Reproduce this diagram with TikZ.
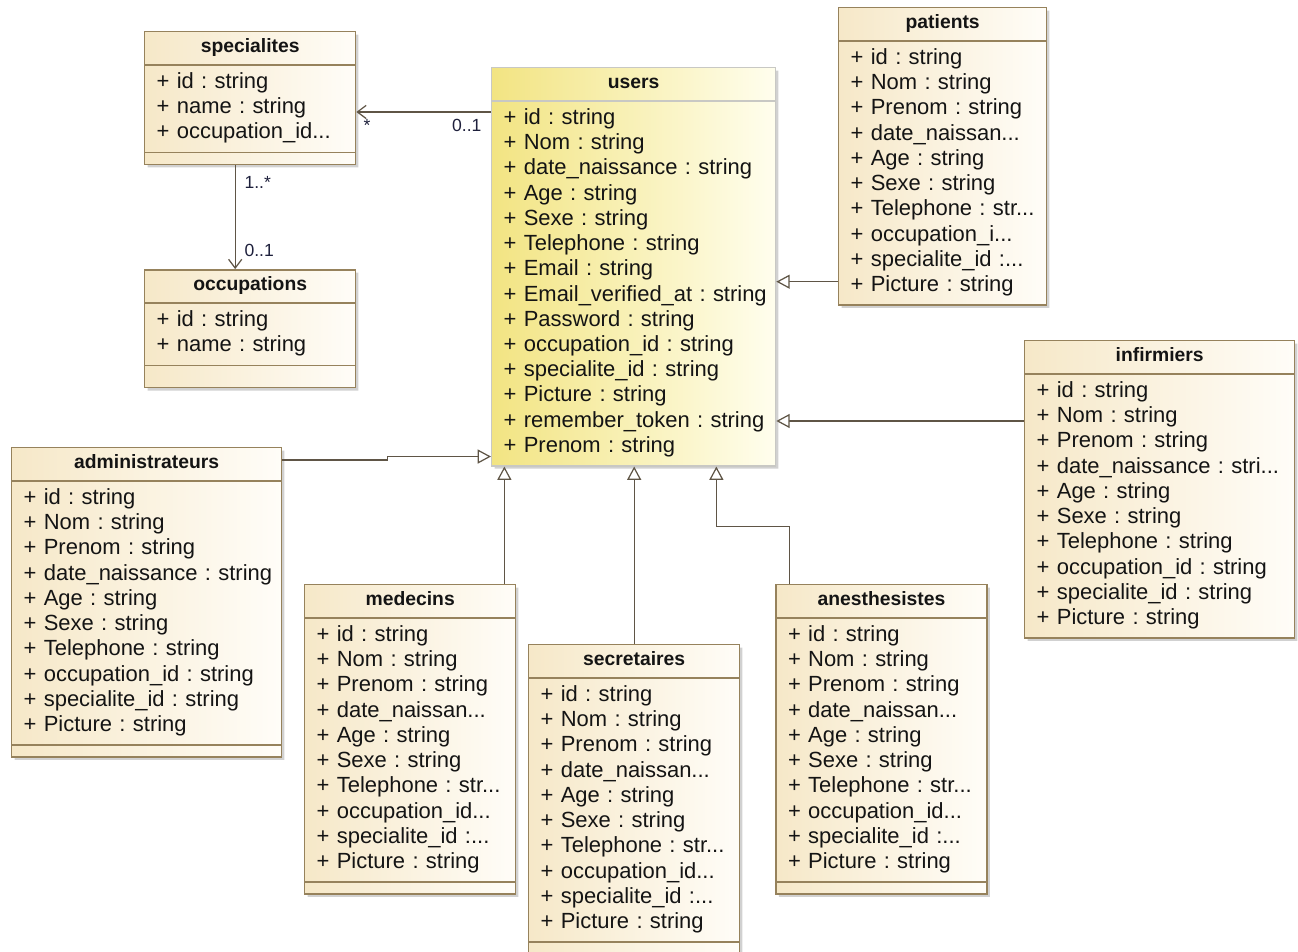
\documentclass[tikz,border=0pt]{standalone}
\usepackage{fontspec}
\setmainfont{Liberation Sans}
\usetikzlibrary{shapes.multipart, shadows, arrows.meta, positioning, calc}
\frenchspacing

\definecolor{classline}{RGB}{150,130,92}
\definecolor{classleft}{RGB}{246,232,200}
\definecolor{classright}{RGB}{255,253,248}
\definecolor{userline}{RGB}{200,200,196}
\definecolor{userleft}{RGB}{242,228,130}
\definecolor{userright}{RGB}{255,254,238}
\definecolor{classtext}{RGB}{20,20,20}
\definecolor{linkcol}{RGB}{95,85,70}
\definecolor{multtext}{RGB}{30,32,60}

\newcommand{\attrfont}{\fontsize{12.5pt}{14.35pt}\selectfont}
\newcommand{\ctitle}[1]{\makebox[\hsize]{\fontsize{11pt}{12.1pt}\selectfont\strut\textbf{#1}}}
\newcommand{\attr}[1]{\mbox{\strut+ #1}}

\begin{document}
\begin{tikzpicture}[x=0.02cm, y=-0.02cm,
    umlclass/.style={rectangle split, rectangle split parts=3,
        rectangle split ignore empty parts=false,
        draw=classline, line width=0.8pt, left color=classleft, right color=classright,
        drop shadow={shadow xshift=1.6pt, shadow yshift=-1.6pt, opacity=0.3, fill=black!60},
        text=classtext, font=\attrfont, align=left,
        inner xsep=0.24cm, inner ysep=3pt, anchor=north west, text width=#1},
    userclass/.style={umlclass=#1, rectangle split parts=2,
        draw=userline, left color=userleft, right color=userright},
    inherit/.style={draw=linkcol, line width=0.7pt,
        -{Triangle[open, length=7.6pt, width=8pt, fill=white]}},
    assoc/.style={draw=linkcol, line width=0.7pt,
        -{Straight Barb[length=5pt, width=7.5pt]}},
    mult/.style={font=\fontsize{10pt}{12pt}\selectfont, text=multtext, inner sep=1pt},
    ]
    \useasboundingbox (0,0) rectangle (1298,951);

    % classes
    \node[umlclass=3.74cm] (specialites) at (144,31) {\ctitle{specialites}
        \nodepart{second}\attr{id : string}\\\attr{name : string}\\\attr{occupation\_id...}
        \nodepart{third}};
    \node[umlclass=3.74cm, below=2.08cm of specialites] (occupations) {\ctitle{occupations}
        \nodepart{second}\attr{id : string}\\\attr{name : string}
        \nodepart{third}\rule{0pt}{5.9pt}};

    \node[userclass=5.2cm] (users) at (491,67) {\ctitle{users}
        \nodepart{second}\attr{id : string}\\\attr{Nom : string}\\\attr{date\_naissance : string}\\
        \attr{Age : string}\\\attr{Sexe : string}\\\attr{Telephone : string}\\
        \attr{Email : string}\\\attr{Email\_verified\_at : string}\\\attr{Password : string}\\
        \attr{occupation\_id : string}\\\attr{specialite\_id : string}\\\attr{Picture : string}\\
        \attr{remember\_token : string}\\\attr{Prenom : string}};

    \node[umlclass=3.68cm, rectangle split parts=2] (patients) at (838,7) {\ctitle{patients}
        \nodepart{second}\attr{id : string}\\\attr{Nom : string}\\\attr{Prenom : string}\\
        \attr{date\_naissan...}\\\attr{Age : string}\\\attr{Sexe : string}\\
        \attr{Telephone : str...}\\\attr{occupation\_i...}\\\attr{specialite\_id :...}\\
        \attr{Picture : string}};

    \node[umlclass=4.92cm, rectangle split parts=2] (infirmiers) at (1024,340) {\ctitle{infirmiers}
        \nodepart{second}\attr{id : string}\\\attr{Nom : string}\\\attr{Prenom : string}\\
        \attr{date\_naissance : stri...}\\\attr{Age : string}\\\attr{Sexe : string}\\
        \attr{Telephone : string}\\\attr{occupation\_id : string}\\\attr{specialite\_id : string}\\
        \attr{Picture : string}};

    \node[umlclass=4.92cm] (administrateurs) at (11,447) {\ctitle{administrateurs}
        \nodepart{second}\attr{id : string}\\\attr{Nom : string}\\\attr{Prenom : string}\\
        \attr{date\_naissance : string}\\\attr{Age : string}\\\attr{Sexe : string}\\
        \attr{Telephone : string}\\\attr{occupation\_id : string}\\\attr{specialite\_id : string}\\
        \attr{Picture : string}
        \nodepart{third}};

    \node[umlclass=3.74cm] (medecins) at (304,584) {\ctitle{medecins}
        \nodepart{second}\attr{id : string}\\\attr{Nom : string}\\\attr{Prenom : string}\\
        \attr{date\_naissan...}\\\attr{Age : string}\\\attr{Sexe : string}\\
        \attr{Telephone : str...}\\\attr{occupation\_id...}\\\attr{specialite\_id :...}\\
        \attr{Picture : string}
        \nodepart{third}};

    \node[umlclass=3.74cm] (secretaires) at (528,644) {\ctitle{secretaires}
        \nodepart{second}\attr{id : string}\\\attr{Nom : string}\\\attr{Prenom : string}\\
        \attr{date\_naissan...}\\\attr{Age : string}\\\attr{Sexe : string}\\
        \attr{Telephone : str...}\\\attr{occupation\_id...}\\\attr{specialite\_id :...}\\
        \attr{Picture : string}
        \nodepart{third}};

    \node[umlclass=3.74cm, right=5.18cm of medecins] (anesthesistes) {\ctitle{anesthesistes}
        \nodepart{second}\attr{id : string}\\\attr{Nom : string}\\\attr{Prenom : string}\\
        \attr{date\_naissan...}\\\attr{Age : string}\\\attr{Sexe : string}\\
        \attr{Telephone : str...}\\\attr{occupation\_id...}\\\attr{specialite\_id :...}\\
        \attr{Picture : string}
        \nodepart{third}};

    % connector ends
    \coordinate (u-spec) at ([yshift=-0.9cm]users.north west);
    \coordinate (s-occ) at ([xshift=-0.3cm]specialites.south);
    \coordinate (p-gen) at ([yshift=0.48cm]patients.south west);
    \coordinate (i-gen) at ([yshift=-1.62cm]infirmiers.north west);
    \coordinate (ad-out) at ([yshift=-0.26cm]administrateurs.north east);
    \coordinate (ad-in) at ([yshift=0.2cm]users.south west);
    \coordinate (m-gen) at ([xshift=-0.24cm]medecins.north east);
    \coordinate (a-gen) at ([xshift=0.28cm]anesthesistes.north west);
    \coordinate (a-bend) at ($(users.south east)+(-60,60)$);

    % associations
    \draw[assoc] (u-spec) -- (u-spec -| specialites.east)
        node[mult, pos=0.18, below=3pt] {0..1}
        node[mult, pos=0.92, below=3pt] {*};
    \draw[assoc] (s-occ) -- (s-occ |- occupations.north)
        node[mult, pos=0.17, right=4pt] {1..*}
        node[mult, pos=0.82, right=4pt] {0..1};

    % generalisations
    \draw[inherit] (p-gen) -- (p-gen -| users.east);
    \draw[inherit] (i-gen) -- (i-gen -| users.east);
    \draw[inherit] (ad-out) -- ++(105,0) |- (ad-in);
    \draw[inherit] (m-gen) -- (m-gen |- users.south);
    \draw[inherit] (secretaires.north) -- (secretaires.north |- users.south);
    \draw[inherit] (a-gen) |- (a-bend) -- (a-bend |- users.south);
\end{tikzpicture}
\end{document}
